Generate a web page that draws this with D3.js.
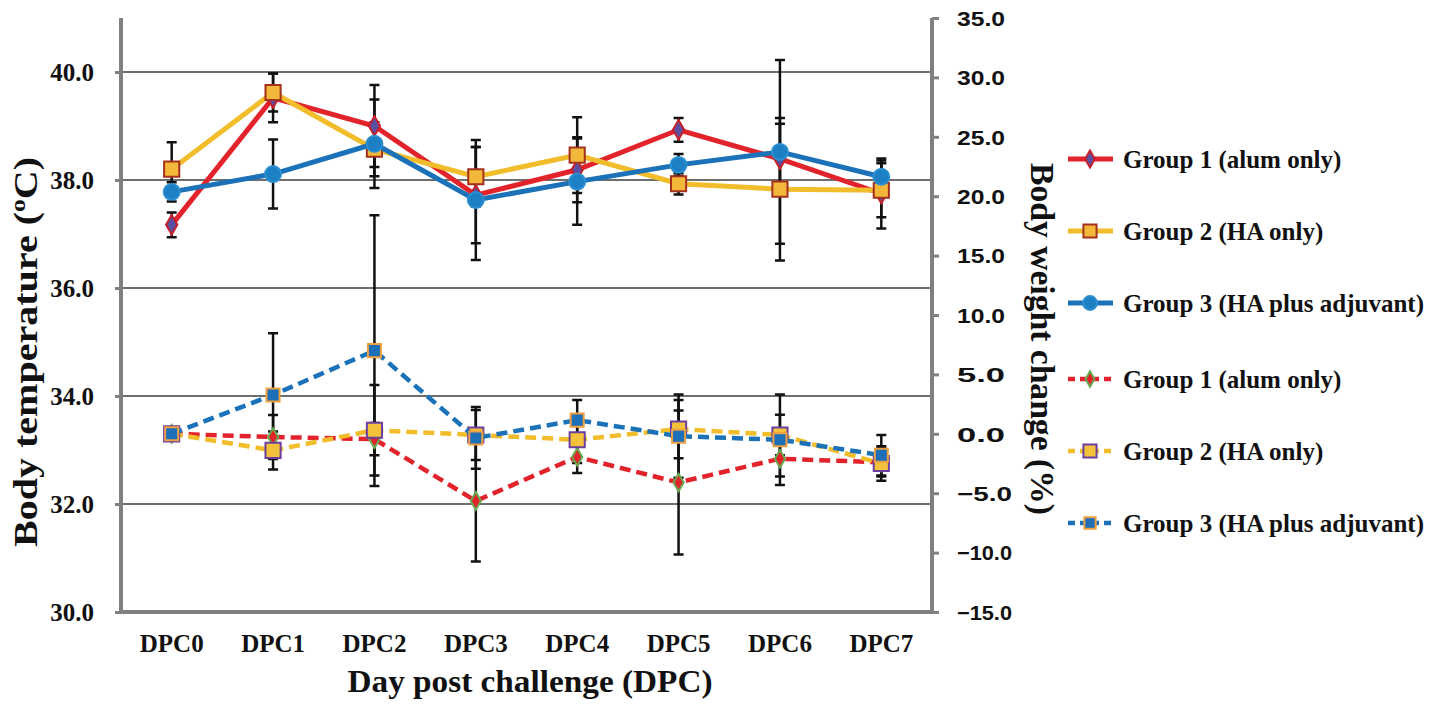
<!DOCTYPE html>
<html>
<head>
<meta charset="utf-8">
<script src="https://cdn.jsdelivr.net/npm/d3@7"></script>
<style>
  body { margin: 0; background: #fff; }
  svg text { font-family: "Liberation Serif", "Times New Roman", serif; font-weight: bold; fill: #111; }
  .rt text { font-family: "Liberation Sans", Arial, sans-serif; }
</style>
</head>
<body>
<svg width="1455" height="704"></svg>
<script>
var days = ['DPC0', 'DPC1', 'DPC2', 'DPC3', 'DPC4', 'DPC5', 'DPC6', 'DPC7'];
var groupNames = ['Group 1 (alum only)', 'Group 2 (HA only)', 'Group 3 (HA plus adjuvant)'];

// body temperature (left axis)
var tempG1 = [37.17, 39.52, 39.0, 37.72, 38.19, 38.93, 38.39, 37.75];
var tempG1Err = [0.23, 0.45, 0.76, 0.89, 0.6, 0.22, 0.65, 0.65];
var tempG2 = [38.2, 39.62, 38.57, 38.06, 38.46, 37.93, 37.83, 37.81];
var tempG2Err = [0.5, 0.35, 0.5, 0.55, 0.7, 0.2, 1.32, 0.5];
var tempG3 = [37.78, 38.11, 38.67, 37.63, 37.97, 38.28, 38.52, 38.06];
var tempG3Err = [0.18, 0.64, 0.82, 1.11, 0.8, 0.2, 1.7, 0.3];

// body weight change (right axis)
var wG1 = [0, -0.27, -0.45, -5.65, -1.95, -4.1, -2.1, -2.4];
var wG1Err = [0, 1.85, 1.35, 5.1, 1.35, 6.06, 1.5, 1.2];
var wG2 = [0, -1.4, 0.3, -0.1, -0.5, 0.4, -0.1, -2.5];
var wG2Err = [0, 1.6, 3.8, 2.1, 1.95, 2.45, 1.7, 1.45];
var wG3 = [0, 3.27, 7.0, -0.35, 1.15, -0.2, -0.5, -1.8];
var wG3Err = [0, 5.2, 11.4, 2.6, 1.7, 3.5, 3.8, 1.7];

var leftTicks = [30, 32, 34, 36, 38, 40];
var rightTicks = [-15, -10, -5, 0, 5, 10, 15, 20, 25, 30, 35];

var ml = 121, mr = 932, mt = 18, mb = 612;
var svg = d3.select('svg');

var x = d3.scaleBand().domain(days).range([ml, mr]);
var yT = d3.scaleLinear().domain([30, 41]).range([mb, mt]);
var yW = d3.scaleLinear().domain([-15, 35]).range([mb, mt]);
var cx = function(d) { return x(d) + x.bandwidth() / 2; };

// gridlines
svg.append('g').selectAll('line').data(leftTicks.slice(1)).enter().append('line')
  .attr('x1', ml).attr('x2', mr)
  .attr('y1', function(d) { return yT(d); }).attr('y2', function(d) { return yT(d); })
  .attr('stroke', '#6e6e6e').attr('stroke-width', 2);

// axes
var axL = svg.append('g').attr('transform', 'translate(' + ml + ',0)')
  .call(d3.axisLeft(yT).tickValues(leftTicks).tickSize(6).tickFormat(d3.format('.1f')));
var axR = svg.append('g').attr('class', 'rt').attr('transform', 'translate(' + mr + ',0)')
  .call(d3.axisRight(yW).tickValues(rightTicks).tickSize(7).tickFormat(d3.format('.1f')));
var axB = svg.append('g').attr('transform', 'translate(0,' + mb + ')')
  .call(d3.axisBottom(x).tickSize(0));

[axL, axR, axB].forEach(function(a) {
  a.select('.domain').attr('stroke', '#808080').attr('stroke-width', 4);
  a.selectAll('.tick line').attr('stroke', '#808080').attr('stroke-width', 3);
});
axL.selectAll('text').attr('font-size', 25).attr('x', -27).attr('dy', '0.35em');
axR.selectAll('text').attr('font-size', 20).attr('x', 25).attr('dy', '0.36em')
  .attr('textLength', function(d) { return d < 0 ? 55 : 48; }).attr('lengthAdjust', 'spacingAndGlyphs');
axB.selectAll('text').attr('font-size', 25).attr('dy', 0).attr('y', 40);
axL.select('.domain').attr('d', 'M0,' + mb + 'V' + mt);
axR.select('.domain').attr('d', 'M0,' + mb + 'V' + mt);
axB.select('.domain').attr('d', 'M' + (ml - 2) + ',0H' + mr);

// axis titles
svg.append('text').attr('transform', 'translate(37,352) rotate(-90)')
  .attr('text-anchor', 'middle').attr('font-size', 33)
  .attr('textLength', 390).attr('lengthAdjust', 'spacingAndGlyphs')
  .html('Body temperature (<tspan baseline-shift="super" font-size="21">o</tspan>C)');
svg.append('text').attr('transform', 'translate(1031,339) rotate(90)')
  .attr('text-anchor', 'middle').attr('font-size', 33)
  .attr('textLength', 352).attr('lengthAdjust', 'spacingAndGlyphs')
  .text('Body weight change (%)');
svg.append('text').attr('x', 530).attr('y', 692)
  .attr('text-anchor', 'middle').attr('font-size', 32)
  .attr('textLength', 365).attr('lengthAdjust', 'spacingAndGlyphs')
  .text('Day post challenge (DPC)');

var red = '#e3232b', yellow = '#f1bd2a', blue = '#1b72b8';
var series = [
  { vals: tempG1, err: tempG1Err, y: yT, color: red, dash: null, shape: d3.symbolDiamond, size: 110, fill: '#5a4fa0', stroke: '#c8202a' },
  { vals: tempG2, err: tempG2Err, y: yT, color: yellow, dash: null, shape: d3.symbolSquare, size: 230, fill: '#f3b73a', stroke: '#a3311d' },
  { vals: tempG3, err: tempG3Err, y: yT, color: blue, dash: null, shape: d3.symbolCircle, size: 200, fill: '#1d7fc4', stroke: '#2b8fd0' },
  { vals: wG1, err: wG1Err, y: yW, color: red, dash: '11,6', shape: d3.symbolDiamond, size: 90, fill: '#e3232b', stroke: '#6aa84f' },
  { vals: wG2, err: wG2Err, y: yW, color: yellow, dash: '11,6', shape: d3.symbolSquare, size: 230, fill: '#f3c23a', stroke: '#6a3fa0' },
  { vals: wG3, err: wG3Err, y: yW, color: blue, dash: '11,6', shape: d3.symbolSquare, size: 170, fill: '#1d6fb8', stroke: '#f0a040' }
];

// error bars
series.forEach(function(s) {
  var g = svg.append('g').attr('stroke', '#111').attr('stroke-width', 2.5);
  var rows = days.map(function(d, i) { return { d: d, v: s.vals[i], e: s.err[i] }; })
    .filter(function(r) { return r.e > 0; });
  g.selectAll('.eb').data(rows).enter().append('path')
    .attr('fill', 'none')
    .attr('d', function(r) {
      var px = cx(r.d), hi = s.y(r.v + r.e), lo = s.y(r.v - r.e);
      return 'M' + px + ',' + hi + 'V' + lo +
        'M' + (px - 5) + ',' + hi + 'H' + (px + 5) +
        'M' + (px - 5) + ',' + lo + 'H' + (px + 5);
    });
});

// lines and markers
series.forEach(function(s) {
  var line = d3.line().x(function(d) { return cx(d); })
    .y(function(d, i) { return s.y(s.vals[i]); });
  svg.append('path').datum(days).attr('d', line)
    .attr('fill', 'none').attr('stroke', s.color)
    .attr('stroke-width', s.dash ? 4.5 : 5)
    .attr('stroke-dasharray', s.dash);
  svg.append('g').selectAll('path').data(days).enter().append('path')
    .attr('d', d3.symbol().type(s.shape).size(s.size))
    .attr('transform', function(d, i) { return 'translate(' + cx(d) + ',' + s.y(s.vals[i]) + ')'; })
    .attr('fill', s.fill).attr('stroke', s.stroke).attr('stroke-width', 2);
});

// legend
var legY = [159, 231, 303, 379, 451, 523];
var leg = svg.append('g').selectAll('g').data(series).enter().append('g')
  .attr('transform', function(s, i) { return 'translate(1068,' + legY[i] + ')'; });
leg.append('line').attr('x1', 0).attr('x2', 45)
  .attr('stroke', function(s) { return s.color; })
  .attr('stroke-width', function(s) { return s.dash ? 4.5 : 5; })
  .attr('stroke-dasharray', function(s) { return s.dash ? '7,5' : null; });
leg.append('path').attr('transform', 'translate(22,0)')
  .attr('d', function(s) { return d3.symbol().type(s.shape).size(s.size * 0.75)(); })
  .attr('fill', function(s) { return s.fill; })
  .attr('stroke', function(s) { return s.stroke; }).attr('stroke-width', 2);
leg.append('text').attr('x', 55).attr('dy', '0.35em').attr('font-size', 25)
  .text(function(s, i) { return groupNames[i % 3]; });
</script>
</body>
</html>
